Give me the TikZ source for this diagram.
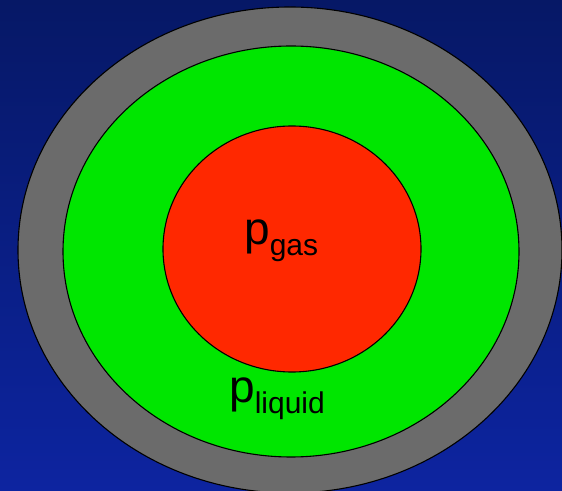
\documentclass[tikz,border=0pt]{standalone}
\usepackage{fontspec}
\setmainfont{Liberation Sans}
\usepackage{xcolor}
\usepackage{tikz}

\definecolor{bgtop}{RGB}{6,24,102}
\definecolor{bgbottom}{RGB}{13,36,160}
\definecolor{wallgray}{RGB}{107,107,107}
\definecolor{liquidgreen}{RGB}{0,230,0}
\definecolor{gasred}{RGB}{255,40,0}

\newcommand{\pressure}[1]{p\raisebox{-11pt}{\fontsize{30}{30}\selectfont #1}}

\begin{document}
\begin{tikzpicture}[
    x=1pt, y=1pt,
    layer/.style={draw=black, line width=1.1pt},
    label/.style={inner sep=0pt, font=\fontsize{46}{46}\selectfont}
]
\useasboundingbox (0,0) rectangle (562,490);
\clip (0,0) rectangle (562,490);
\shade[top color=bgtop, bottom color=bgbottom] (0,0) rectangle (562,490);
% wall, liquid, gas bubble
\filldraw[layer, fill=wallgray] (290,240) ellipse [x radius=272, y radius=243];
\filldraw[layer, fill=liquidgreen] (291,238.5) ellipse [x radius=228, y radius=205.5];
\filldraw[layer, fill=gasred] (292,241) ellipse [x radius=129, y radius=123];
\node[label, anchor=base west] (pgas) at (244,245) {\pressure{gas}};
\node[label, anchor=base west] (pliquid) at (229,88) {\pressure{liquid}};
\end{tikzpicture}
\end{document}
